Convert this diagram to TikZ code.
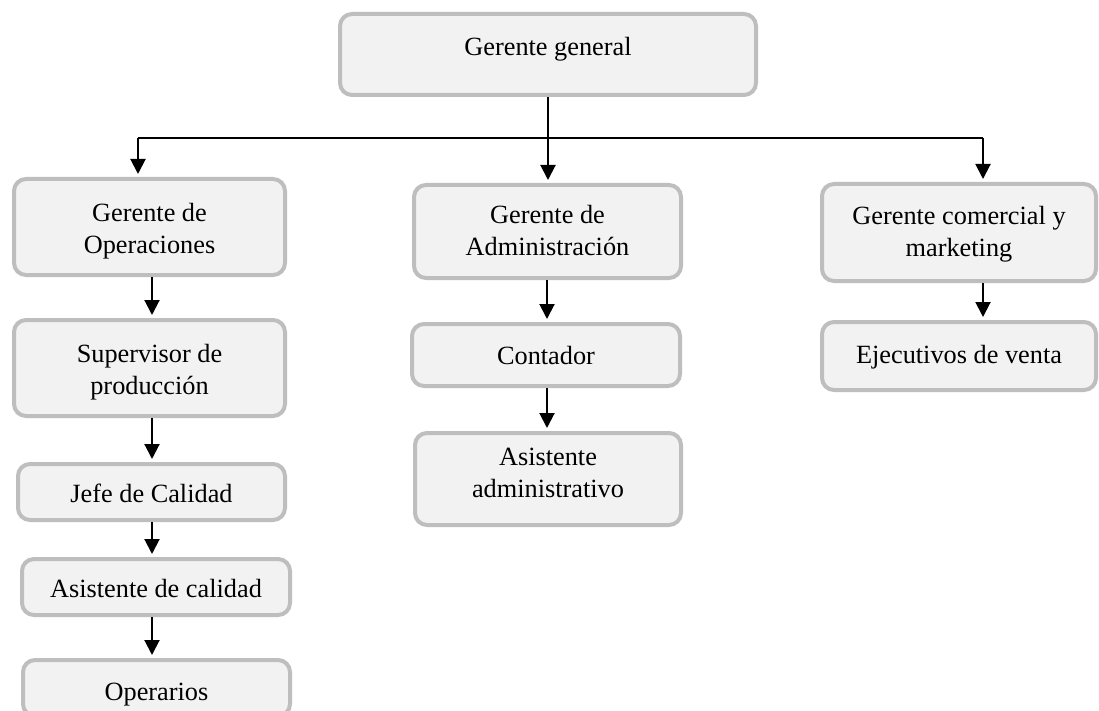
\documentclass[tikz,border=0pt]{standalone}
\usepackage{fontspec}
\setmainfont{Liberation Serif}
\usetikzlibrary{arrows.meta}
\definecolor{boxfill}{HTML}{F2F2F2}
\definecolor{boxline}{HTML}{BEBEBE}
\tikzset{
  post/.style={draw=boxline, fill=boxfill, line width=4pt, rounded corners=12pt,
    inner sep=0pt, align=center, text=black, text depth=0pt,
    font=\fontsize{26.3}{32}\selectfont},
  link/.style={line width=2pt, draw=black},
  arr/.style={link, -{Triangle[length=15pt,width=15pt]}, shorten >=3pt}
}
% name, centre x, centre y, width, height, text height (sets the baseline), text
\newcommand{\postbox}[7]{%
  \node[post, minimum width=#4pt, minimum height=#5pt, text height=#6pt] (#1) at (#2,#3) {#7};}
\begin{document}
\begin{tikzpicture}[x=1pt,y=-1pt]
  \useasboundingbox (0,0) rectangle (1099,711);
  \clip (0,0) rectangle (1099,711);
  \fill[white] (0,0) rectangle (1099,711);

  \postbox{gg}{548}{54.5}{416}{81}{3}{Gerente general}
  \postbox{ops}{149.5}{227}{271}{96}{53.4}{Gerente de\\Operaciones}
  \postbox{sup}{149.5}{368}{271}{96}{52.6}{Supervisor de\\producción}
  \postbox{jefe}{151.5}{492}{267}{56}{21.4}{Jefe de Calidad}
  \postbox{asc}{156}{587}{268}{56}{21.4}{Asistente de calidad}
  \postbox{oper}{156.5}{688}{267}{56}{24}{Operarios}
  \postbox{adm}{547.5}{231.5}{267}{93}{47.6}{Gerente de\\Administración}
  \postbox{cont}{546}{355}{268}{62}{18.6}{Contador}
  \postbox{asa}{548}{479}{266}{92}{36}{Asistente\\administrativo}
  \postbox{com}{959}{232.5}{274}{97}{47.6}{Gerente comercial y\\marketing}
  \postbox{eje}{959}{356}{274}{68}{14.6}{Ejecutivos de venta}

  % branch bar below the general manager
  \coordinate (hl) at (138,138);
  \coordinate (hm) at (548,138);
  \coordinate (hr) at (983,138);
  \coordinate (colL) at (152,0);
  \coordinate (colM) at (547,0);
  \coordinate (colR) at (983,0);

  \draw[link] (gg.south) -- (hm);
  \draw[link] (hl) -- (hr);
  \draw[arr] (hl) -- (hl |- ops.north);
  \draw[arr] (hm) -- (hm |- adm.north);
  \draw[arr] (hr) -- (hr |- com.north);

  % left column
  \draw[arr] (ops.south -| colL) -- (sup.north -| colL);
  \draw[arr] (sup.south -| colL) -- (jefe.north -| colL);
  \draw[arr] (jefe.south -| colL) -- (asc.north -| colL);
  \draw[arr] (asc.south -| colL) -- (oper.north -| colL);

  % middle column
  \draw[arr] (adm.south -| colM) -- (cont.north -| colM);
  \draw[arr] (cont.south -| colM) -- (asa.north -| colM);

  % right column
  \draw[arr] (com.south -| colR) -- (eje.north -| colR);
\end{tikzpicture}
\end{document}
